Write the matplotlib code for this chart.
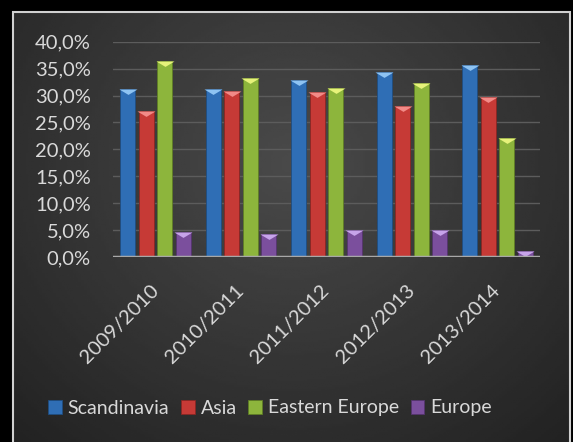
import matplotlib.pyplot as plt
from matplotlib.patches import Patch
import numpy as np

seasons = ['2009/2010', '2010/2011', '2011/2012', '2012/2013', '2013/2014']
regions = ['Scandinavia', 'Asia', 'Eastern Europe', 'Europe']
scandinavia = [31.2, 31.2, 32.8, 34.3, 35.6]
asia = [27.2, 30.9, 30.6, 28.1, 29.8]
eastern_europe = [36.5, 33.3, 31.4, 32.4, 22.2]
europe = [4.7, 4.2, 5.0, 5.0, 1.2]
yticks = [0, 5, 10, 15, 20, 25, 30, 35, 40]

colors = ['#2f6eb5', '#c63a36', '#8db53c', '#7b4f9d']
tops = ['#8ec3f2', '#f28a87', '#e6f27a', '#c7a4ea']
edges = ['#1f4d80', '#8a2623', '#5f7d25', '#55346e']

fig = plt.figure(figsize=(5.73, 4.42), dpi=100)
fig.patch.set_facecolor('black')

# dark gradient panel behind the chart
bg = fig.add_axes([13 / 573, 0, 557 / 573, 430 / 442])
yy, xx = np.mgrid[0:1:200j, 0:1:200j]
r = np.sqrt(((xx - 0.5) / 0.75) ** 2 + ((yy - 0.35) / 0.9) ** 2)
bg.imshow(0.29 - 0.16 * r, cmap='gray', vmin=0, vmax=1, aspect='auto',
          extent=[0, 1, 0, 1], origin='upper')
bg.plot([0, 0, 1, 1], [-0.1, 1, 1, -0.1], color='#d0d0d0', lw=1.5,
        clip_on=False, solid_joinstyle='miter')
bg.set_xlim(0, 1)
bg.set_ylim(0, 1)
bg.axis('off')

ax = fig.add_axes([113 / 573, 185 / 442, 427 / 573, 215.3 / 442])
ax.patch.set_alpha(0)

x = np.arange(len(seasons))
step = 0.217
width = 0.176
series = [scandinavia, asia, eastern_europe, europe]
tri = [(-1, 0), (1, 0), (0, -0.6), (-1, 0)]
for i, vals in enumerate(series):
    pos = x + (i - 1.5) * step
    ax.bar(pos, vals, width, color=colors[i], edgecolor=edges[i], lw=0.6,
           label=regions[i], zorder=3)
    ax.plot(pos, vals, ls='none', marker=tri, ms=13, color=tops[i], mec='none',
            zorder=4)

ax.set_xlim(-0.5, len(seasons) - 0.5)
ax.set_ylim(0, 40)
ax.set_yticks(yticks)
ax.set_yticklabels([f'{v:.1f}%'.replace('.', ',') for v in yticks])
ax.set_xticks(x)
ax.set_xticklabels(seasons, rotation=45, ha='right', va='center',
                   rotation_mode='anchor')
ax.grid(axis='y', color='#5c5c5c', lw=1, zorder=0)
ax.axhline(0, color='#a8a8a8', lw=2.5, zorder=5)
for s in ax.spines.values():
    s.set_visible(False)
ax.tick_params(axis='y', length=0, pad=16, labelsize=14.5, labelcolor='#d9d9d9')
ax.tick_params(axis='x', length=0, pad=22, labelsize=14.5, labelcolor='#d9d9d9')
for t in ax.get_xticklabels() + ax.get_yticklabels():
    t.set_fontfamily('Lato')

handles = [Patch(facecolor=c, edgecolor=e, lw=0.6) for c, e in zip(colors, edges)]
leg = fig.legend(handles, regions, loc='center', bbox_to_anchor=(270 / 573, 1 - 408 / 442),
                 ncol=4, frameon=False, handlelength=0.7, handleheight=0.7,
                 handletextpad=0.3, columnspacing=0.6,
                 prop={'family': 'Lato', 'size': 14})
for t in leg.get_texts():
    t.set_color('#d9d9d9')

fig.savefig('out.png', dpi=100, facecolor=fig.get_facecolor())
